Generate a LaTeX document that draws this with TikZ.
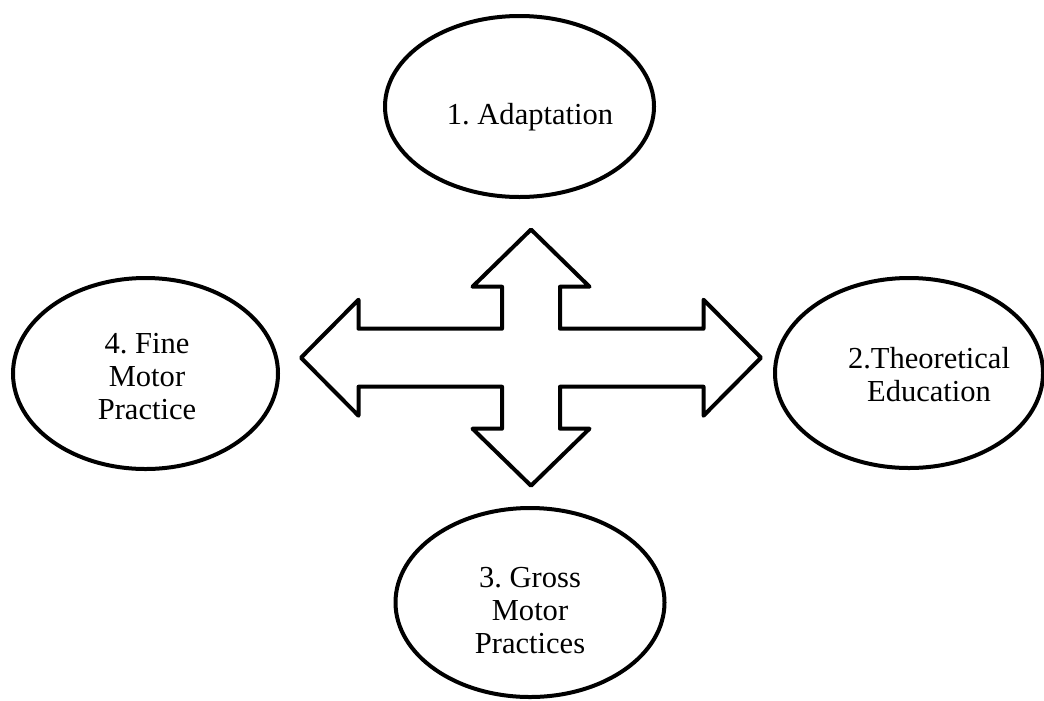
\documentclass[tikz,border=0pt]{standalone}
\usepackage{fontspec}
\setmainfont{Liberation Serif}
\frenchspacing
\usetikzlibrary{shapes.geometric}
\tikzset{
  ell/.style={draw=black, line width=3pt, ellipse, inner sep=0pt, fill=white},
  lbl/.style={inner sep=0pt, align=center, font=\fontsize{22.9}{24.75}\selectfont},
  bigarrow/.style={draw=black, line width=3pt, line join=round, fill=white}
}
\begin{document}
\begin{tikzpicture}[x=0.75pt, y=-0.75pt]
\useasboundingbox (0,0) rectangle (1044,700);
% ellipses
\node[ell, minimum width=201.75pt, minimum height=135.75pt] (e1) at (519.5,106.5) {};
\node[ell, minimum width=201pt, minimum height=142.5pt] (e2) at (909,373) {};
\node[ell, minimum width=201.75pt, minimum height=141.75pt] (e3) at (530,602.5) {};
\node[ell, minimum width=198.75pt, minimum height=143.25pt] (e4) at (145.5,373.5) {};
% labels
\node[lbl] (t1) at (530,117.4) {\strut 1. Adaptation};
\node[lbl] (t2) at (929,378.4) {\strut 2.Theoretical\\Education\strut};
\node[lbl] (t3) at (530,614) {\strut 3. Gross\\Motor\\Practices\strut};
\node[lbl] (t4) at (147,379.7) {\strut 4. Fine\\Motor\\Practice\strut};
% four-way arrow
\coordinate (c) at (531,357.7);
\begin{scope}[shift={(c)}]
\draw[bigarrow] (0,-128.2) -- (58.5,-71) -- (29,-71) -- (29,-29) -- (172.5,-29) -- (172.5,-58)
  -- (230,0) -- (172.5,58) -- (172.5,29) -- (29,29) -- (29,71) -- (58.5,71)
  -- (0,128) -- (-58.5,71) -- (-29,71) -- (-29,29) -- (-172.5,29) -- (-172.5,58)
  -- (-230,0) -- (-172.5,-58) -- (-172.5,-29) -- (-29,-29) -- (-29,-71) -- (-58.5,-71) -- cycle;
\end{scope}
\end{tikzpicture}
\end{document}
